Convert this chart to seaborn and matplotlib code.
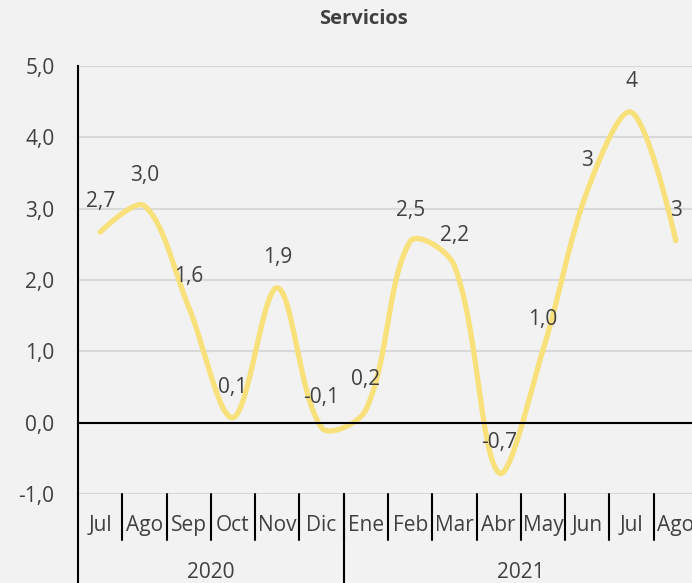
import numpy as np
import seaborn as sns
import matplotlib.pyplot as plt
import matplotlib.transforms as mtransforms

# -------------------------------
# Data
# -------------------------------
months = ["Jul", "Ago", "Sep", "Oct", "Nov", "Dic", "Ene", "Feb", "Mar",
          "Abr", "May", "Jun", "Jul", "Ago"]
years = ["2020", "2021"]
year_sizes = [6, 8]
values = [2.67, 3.04, 1.62, 0.07, 1.89, -0.07, 0.18, 2.54, 2.2,
          -0.7, 1.02, 3.25, 4.35, 2.55]
labels = ["2,7", "3,0", "1,6", "0,1", "1,9", "-0,1", "0,2", "2,5", "2,2",
          "-0,7", "1,0", "3", "4", "3"]

line_color = "#F8E07A"
text_color = "#404040"
bg = "#F2F2F2"

# -------------------------------
# Style
# -------------------------------
sns.set_style("white")
plt.rcParams["font.family"] = ["Open Sans", "DejaVu Sans"]


# smooth line like Excel: bezier through the points, tangents scaled by
# the chord lengths measured in screen units (sx, sy = pixels per unit)
def smooth(xv, yv, sx=44.3, sy=71.4, n=50):
    pts = np.column_stack([xv, yv]).astype(float)
    scr = pts * [sx, sy]
    k = len(pts)
    d = np.hypot(*np.diff(scr, axis=0).T)
    out = []
    t = np.linspace(0, 1, n)[:, None]
    for i in range(k - 1):
        p1, p2 = pts[i], pts[i + 1]
        if i > 0:
            tan1 = pts[i + 1] - pts[i - 1]
            c1 = p1 + tan1 / 3 * d[i] / (d[i - 1] + d[i])
        else:
            c1 = p1
        if i + 2 < k:
            tan2 = pts[i + 2] - pts[i]
            c2 = p2 - tan2 / 3 * d[i] / (d[i] + d[i + 1])
        else:
            c2 = p2
        seg = ((1 - t) ** 3) * p1 + 3 * ((1 - t) ** 2) * t * c1 \
            + 3 * (1 - t) * t ** 2 * c2 + t ** 3 * p2
        out.append(seg if i == 0 else seg[1:])
    out = np.vstack(out)
    return out[:, 0], out[:, 1]


x = np.arange(len(months))
cx, cy = smooth(x, values)

# -------------------------------
# Figure
# -------------------------------
fig = plt.figure(figsize=(6.92, 5.83), dpi=100, facecolor=bg)
ax = fig.add_axes([78 / 692, 1 - 494 / 583, 620 / 692, 428 / 583])
ax.set_facecolor(bg)

sns.lineplot(x=cx, y=cy, sort=False, estimator=None, color=line_color,
             linewidth=3.8, ax=ax, solid_capstyle="round")

ax.set_xlim(-0.5, len(months) - 0.5)
ax.set_ylim(-1, 5)
ax.set_yticks(np.arange(-1, 6, 1))
ax.set_yticklabels([f"{v:.1f}".replace(".", ",") for v in np.arange(-1, 6, 1)],
                   color=text_color, fontsize=15)
ax.tick_params(axis="y", length=0, pad=17)
ax.grid(axis="y", color="#D9D9D9", linewidth=1.5)
ax.set_axisbelow(True)

for s in ["top", "right"]:
    ax.spines[s].set_visible(False)
ax.spines["left"].set_color("black")
ax.spines["left"].set_linewidth(1.5)
ax.spines["bottom"].set_position(("data", 0))
ax.spines["bottom"].set_color("black")
ax.spines["bottom"].set_linewidth(1.5)
ax.set_xticks(np.arange(len(months) + 1) - 0.5)
ax.set_xticklabels([])
ax.tick_params(axis="x", direction="out", length=5, width=1.5, color="black")

# data labels
for xi, v, lab in zip(x, values, labels):
    ax.annotate(lab, (xi, v), xytext=(0, 22), textcoords="offset points",
                ha="center", va="center", fontsize=15, color=text_color)

# category area below the plot
trans = mtransforms.blended_transform_factory(ax.transData, ax.transAxes)
for xi, m in zip(x, months):
    ax.text(xi, -0.074, m, transform=trans, ha="center", va="center",
            fontsize=15, color=text_color, clip_on=False)
for b in range(1, len(months)):
    ax.plot([b - 0.5, b - 0.5], [0, -0.108], transform=trans, color="black",
            linewidth=1.5, clip_on=False)

start = 0
bounds = [-0.5]
for yr, n in zip(years, year_sizes):
    ax.text(start + (n - 1) / 2, -0.184, yr, transform=trans, ha="center",
            va="center", fontsize=15, color=text_color, clip_on=False)
    start += n
    bounds.append(start - 0.5)
for b in bounds:
    ax.plot([b, b], [0, -0.21], transform=trans, color="black",
            linewidth=1.5, clip_on=False)

fig.text(363 / 692, 1 - 19 / 583, "Servicios", ha="center", va="center",
         fontsize=14.5, fontweight="bold", color=text_color)

fig.savefig("out.png", dpi=100, facecolor=bg)
